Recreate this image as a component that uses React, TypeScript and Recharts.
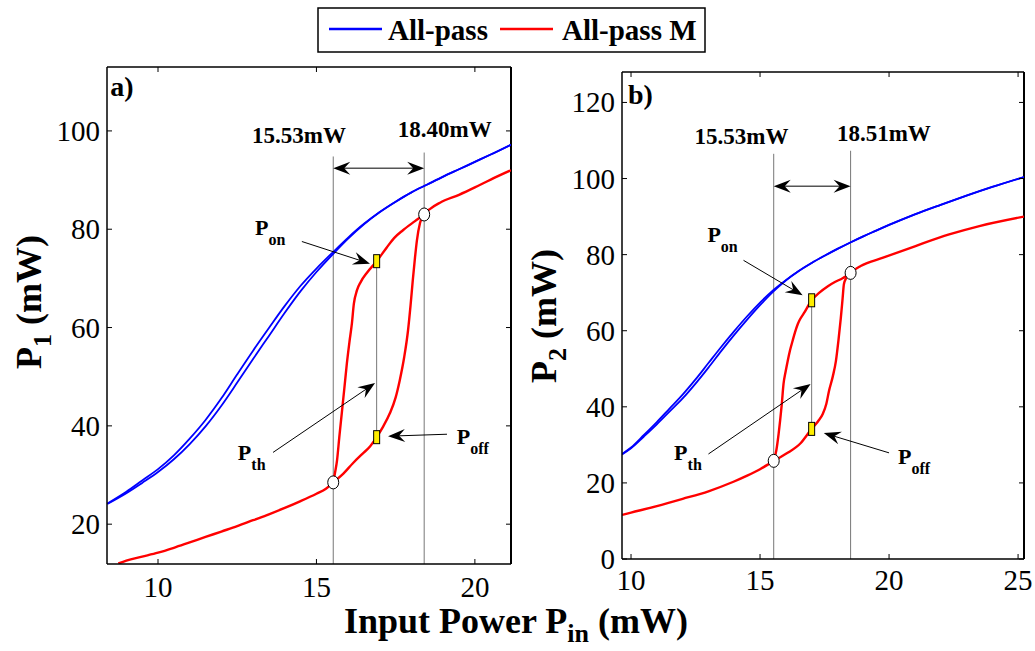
import React from 'react';
import { LineChart, Line, XAxis, YAxis, ReferenceLine, ReferenceDot } from 'recharts';

const FONT = '"Liberation Serif", "Times New Roman", Times, serif';

// legend
const seriesNames = ['All-pass', 'All-pass M'];
const seriesColors = ['#0000ff', '#ff0000'];

// ---- panel a) : P1 vs Pin ----
const aTicksX = [10, 15, 20];
const aTicksY = [20, 40, 60, 80, 100];
const aBlueX = [8.4, 9, 9.5, 10, 10.5, 11, 11.5, 12, 12.5, 13, 13.5, 14, 14.5, 15, 15.5, 16, 16.5, 17, 17.5, 18, 18.5, 19, 19.5, 20, 20.5, 21.14];
const aBlueUp = [24.2, 26.6, 28.9, 31.2, 34.0, 37.4, 41.2, 45.6, 50.5, 55.3, 59.9, 64.4, 68.5, 72.0, 75.2, 78.3, 81.1, 83.5, 85.6, 87.5, 89.1, 90.7, 92.2, 93.7, 95.2, 97.2];
const aBlueDown = [24.1, 26.3, 28.4, 30.6, 33.2, 36.3, 39.9, 44.1, 48.8, 53.6, 58.3, 63.0, 67.4, 71.3, 74.8, 78.1, 81.0, 83.5, 85.6, 87.5, 89.1, 90.7, 92.2, 93.7, 95.2, 97.2];
const aRedUpX = [8.75, 9, 9.5, 10, 10.5, 11, 11.5, 12, 12.5, 13, 13.5, 14, 14.5, 15, 15.3, 15.53, 15.85, 16.15, 16.45, 16.69, 16.9, 17.1, 17.32, 17.5, 17.63, 17.77, 17.89, 17.97, 18.04, 18.11, 18.17, 18.27, 18.4, 18.6, 18.9, 19.5, 20, 20.5, 21.14];
const aRedUpY = [12, 12.6, 13.4, 14.2, 15.2, 16.3, 17.4, 18.5, 19.6, 20.8, 22.0, 23.3, 24.7, 26.2, 27.2, 28.5, 30.3, 32.4, 34.3, 35.8, 37.7, 39.8, 42.6, 45.8, 49.3, 54.0, 59.4, 64.5, 69.6, 74.2, 77.7, 81.3, 83, 84.2, 85.4, 87, 88.5, 90.1, 92];
const aRedDownX = [18.4, 18.1, 17.73, 17.45, 17.22, 16.9, 16.6, 16.4, 16.28, 16.18, 16.12, 16.04, 15.96, 15.88, 15.8, 15.72, 15.65, 15.59, 15.53];
const aRedDownY = [83, 81.6, 79.8, 78.2, 76.3, 73.5, 71.2, 69.3, 67.6, 64.8, 60.9, 57.0, 52.7, 47.6, 42.6, 37.6, 33, 30.6, 28.5];
const aCircles = [{ x: 15.53, y: 28.5 }, { x: 18.4, y: 83 }];
const aSquares = [{ x: 16.9, y: 73.5 }, { x: 16.9, y: 37.7 }];

// ---- panel b) : P2 vs Pin ----
const bTicksX = [10, 15, 20, 25];
const bTicksY = [0, 20, 40, 60, 80, 100, 120];
const bBlueX = [9.65, 10, 10.5, 11, 11.5, 12, 12.5, 13, 13.5, 14, 14.5, 15, 15.5, 16, 16.5, 17, 17.5, 18, 18.5, 19, 19.5, 20, 21, 22, 23, 24, 25.23];
const bBlueUp = [27.6, 29.3, 32.6, 36.0, 39.6, 43.2, 47.2, 51.5, 55.8, 59.9, 63.8, 67.4, 70.6, 73.3, 75.7, 77.8, 79.7, 81.5, 83.2, 84.8, 86.3, 87.8, 90.6, 93.1, 95.5, 97.8, 100.4];
const bBlueDown = [27.5, 29.1, 32.2, 35.4, 38.8, 42.2, 46.1, 50.3, 54.7, 58.9, 62.9, 66.7, 70.2, 73.2, 75.7, 77.8, 79.7, 81.5, 83.2, 84.8, 86.3, 87.8, 90.6, 93.1, 95.5, 97.8, 100.4];
const bRedUpX = [9.65, 10, 11, 12, 13, 13.97, 14.5, 15, 15.3, 15.53, 15.8, 16.07, 16.58, 17.0, 17.25, 17.43, 17.57, 17.67, 17.82, 17.94, 18.04, 18.13, 18.2, 18.25, 18.35, 18.51, 18.9, 19.77, 21, 22.33, 23.5, 25.23];
const bRedUpY = [11.6, 12.2, 13.9, 15.8, 17.8, 20.3, 21.9, 23.6, 24.8, 25.8, 26.8, 27.9, 30.5, 34.2, 36.2, 38.1, 40.8, 44.1, 48.0, 52, 57.5, 63.3, 68.5, 72.2, 74.0, 75.2, 77, 79.2, 82.2, 85.3, 87.5, 90];
const bRedDownX = [18.51, 18.2, 17.9, 17.63, 17.3, 17.0, 16.7, 16.55, 16.46, 16.36, 16.26, 16.16, 16.07, 15.99, 15.91, 15.84, 15.78, 15.72, 15.63, 15.53];
const bRedDownY = [75.2, 73.8, 72.8, 71.7, 70.0, 68, 64.6, 63.0, 61.7, 59.7, 57.3, 54.8, 52, 49.2, 46, 40.5, 36.5, 32.9, 28.5, 25.8];
const bCircles = [{ x: 15.53, y: 25.8 }, { x: 18.51, y: 75.2 }];
const bSquares = [{ x: 17.0, y: 68 }, { x: 17.0, y: 34.2 }];

const zip = (xs: number[], ys: number[]) => xs.map((x, i) => ({ x, y: ys[i] }));

type P = { x: number; y: number };
type PanelCfg = {
  left: number;
  top: number;
  plotW: number;
  plotH: number;
  xDomain: [number, number];
  yDomain: [number, number];
  xTicks: number[];
  yTicks: number[];
  xLabelDy: number;
  blue: P[][];
  red: P[][];
  circles: P[];
  squares: P[];
  vlines: P[][];
  bracket: P[];
  arrows: P[][];
  tags: { x: number; y: number; sub: string }[];
  values: { x: number; y: number; text: string }[];
  letter: { x: number; y: number; text: string };
};

const headPts = (tx: number, ty: number, ux: number, uy: number) => {
  const L = 17, W = 6.5, N = 11;
  const nx = -uy, ny = ux;
  return `${tx},${ty} ${tx - L * ux + W * nx},${ty - L * uy + W * ny} ${tx - N * ux},${ty - N * uy} ${tx - L * ux - W * nx},${ty - L * uy - W * ny}`;
};

const arrowShape = (p: any, both: boolean, color: string, width: number) => {
  const { x1, y1, x2, y2 } = p;
  const len = Math.hypot(x2 - x1, y2 - y1) || 1;
  const ux = (x2 - x1) / len, uy = (y2 - y1) / len;
  return (
    <g>
      <line
        x1={both ? x1 + 10 * ux : x1}
        y1={both ? y1 + 10 * uy : y1}
        x2={x2 - 10 * ux}
        y2={y2 - 10 * uy}
        stroke={color}
        strokeWidth={width}
      />
      <polygon points={headPts(x2, y2, ux, uy)} fill="#000" />
      {both && <polygon points={headPts(x1, y1, -ux, -uy)} fill="#000" />}
    </g>
  );
};

const Panel = ({ c }: { c: PanelCfg }) => {
  const W = 520, H = 651;
  const xTick = (props: any) => {
    const { x, y, payload } = props;
    return (
      <g>
        <line x1={x} y1={y} x2={x} y2={y - 5} stroke="#000" strokeWidth={1} />
        <line x1={x} y1={y - c.plotH} x2={x} y2={y - c.plotH + 5} stroke="#000" strokeWidth={1} />
        <text x={x} y={y + c.xLabelDy} textAnchor="middle" fontFamily={FONT} fontSize={29} fill="#000">
          {payload.value}
        </text>
      </g>
    );
  };
  const yTick = (props: any) => {
    const { x, y, payload } = props;
    return (
      <g>
        <line x1={x} y1={y} x2={x + 5} y2={y} stroke="#000" strokeWidth={1} />
        <line x1={x + c.plotW} y1={y} x2={x + c.plotW - 5} y2={y} stroke="#000" strokeWidth={1} />
        <text x={x - 7} y={y + 10} textAnchor="end" fontFamily={FONT} fontSize={29} fill="#000">
          {payload.value}
        </text>
      </g>
    );
  };
  return (
    <div style={{ position: 'absolute', left: c.left, top: 0, width: W, height: H }}>
      <LineChart width={W} height={H} margin={{ top: c.top, right: W - 107 - c.plotW, bottom: 0, left: 0 }}>
        <XAxis
          type="number"
          dataKey="x"
          domain={c.xDomain}
          allowDataOverflow
          ticks={c.xTicks}
          interval={0}
          tick={xTick}
          tickLine={false}
          tickSize={0}
          tickMargin={0}
          height={H - c.top - c.plotH}
          axisLine={{ stroke: '#000', strokeWidth: 1.5 }}
        />
        <YAxis
          type="number"
          domain={c.yDomain}
          allowDataOverflow
          ticks={c.yTicks}
          interval={0}
          tick={yTick}
          tickLine={false}
          tickSize={0}
          tickMargin={0}
          width={107}
          axisLine={{ stroke: '#000', strokeWidth: 1.5 }}
        />
        <ReferenceLine y={c.yDomain[1]} stroke="#000" strokeWidth={1.5} />
        <ReferenceLine x={c.xDomain[1]} stroke="#000" strokeWidth={2} />
        {c.vlines.map((s, i) => (
          <ReferenceLine key={`v${i}`} segment={s} stroke="#777" strokeWidth={1} />
        ))}
        {c.blue.map((d, i) => (
          <Line key={`b${i}`} data={d} dataKey="y" type="monotone" stroke={seriesColors[0]} strokeWidth={1.8} dot={false} activeDot={false} isAnimationActive={false} />
        ))}
        {c.red.map((d, i) => (
          <Line key={`r${i}`} data={d} dataKey="y" type="monotone" stroke={seriesColors[1]} strokeWidth={2.4} dot={false} activeDot={false} isAnimationActive={false} />
        ))}
        <ReferenceLine segment={c.bracket} shape={(p: any) => arrowShape(p, true, '#555', 1.5)} />
        {c.arrows.map((s, i) => (
          <ReferenceLine key={`a${i}`} segment={s} shape={(p: any) => arrowShape(p, false, '#000', 1)} />
        ))}
        {c.circles.map((p, i) => (
          <ReferenceDot key={`c${i}`} x={p.x} y={p.y} r={6} shape={(q: any) => (
            <ellipse cx={q.cx} cy={q.cy} rx={5.5} ry={6.5} fill="#fff" stroke="#000" strokeWidth={1} />
          )} />
        ))}
        {c.squares.map((p, i) => (
          <ReferenceDot key={`s${i}`} x={p.x} y={p.y} r={6} shape={(q: any) => (
            <rect x={q.cx - 3} y={q.cy - 6.5} width={6} height={13} fill="#ffee00" stroke="#000" strokeWidth={1} />
          )} />
        ))}
        {c.tags.map((t, i) => (
          <ReferenceDot key={`t${i}`} x={t.x} y={t.y} r={1} shape={(q: any) => (
            <text x={q.cx} y={q.cy} fontFamily={FONT} fontWeight="bold" fontSize={22} fill="#000">
              P<tspan fontSize={16} dy={10}>{t.sub}</tspan>
            </text>
          )} />
        ))}
        {c.values.map((t, i) => (
          <ReferenceDot key={`l${i}`} x={t.x} y={t.y} r={1} shape={(q: any) => (
            <text x={q.cx} y={q.cy} textAnchor="middle" fontFamily={FONT} fontWeight="bold" fontSize={23} fill="#000">
              {t.text}
            </text>
          )} />
        ))}
        <ReferenceDot x={c.letter.x} y={c.letter.y} r={1} shape={(q: any) => (
          <text x={q.cx} y={q.cy} fontFamily={FONT} fontWeight="bold" fontSize={28} fill="#000">
            {c.letter.text}
          </text>
        )} />
      </LineChart>
    </div>
  );
};

const panelA: PanelCfg = {
  left: 0,
  top: 67,
  plotW: 404,
  plotH: 497,
  xDomain: [8.39, 21.14],
  yDomain: [11.9, 113],
  xTicks: aTicksX,
  yTicks: aTicksY,
  xLabelDy: 33,
  blue: [zip(aBlueX, aBlueUp), zip(aBlueX, aBlueDown)],
  red: [zip(aRedUpX, aRedUpY), zip(aRedDownX, aRedDownY)],
  circles: aCircles,
  squares: aSquares,
  vlines: [
    [{ x: 15.53, y: 94.8 }, { x: 15.53, y: 11.9 }],
    [{ x: 18.4, y: 95.6 }, { x: 18.4, y: 11.9 }],
    [{ x: 16.9, y: 73.5 }, { x: 16.9, y: 37.7 }],
  ],
  bracket: [{ x: 15.53, y: 92.4 }, { x: 18.4, y: 92.4 }],
  arrows: [
    [{ x: 14.54, y: 77.5 }, { x: 16.69, y: 73.0 }],
    [{ x: 13.63, y: 34.6 }, { x: 16.85, y: 48.7 }],
    [{ x: 19.12, y: 38.3 }, { x: 17.26, y: 37.9 }],
  ],
  tags: [
    { x: 13.06, y: 78.9, sub: 'on' },
    { x: 12.52, y: 33, sub: 'th' },
    { x: 19.43, y: 36.3, sub: 'off' },
  ],
  values: [
    { x: 14.45, y: 97.6, text: '15.53mW' },
    { x: 19.05, y: 98.7, text: '18.40mW' },
  ],
  letter: { x: 8.49, y: 107.2, text: 'a)' },
};

const panelB: PanelCfg = {
  left: 515,
  top: 72,
  plotW: 402,
  plotH: 487,
  xDomain: [9.65, 25.23],
  yDomain: [0, 128],
  xTicks: bTicksX,
  yTicks: bTicksY,
  xLabelDy: 31,
  blue: [zip(bBlueX, bBlueUp), zip(bBlueX, bBlueDown)],
  red: [zip(bRedUpX, bRedUpY), zip(bRedDownX, bRedDownY)],
  circles: bCircles,
  squares: bSquares,
  vlines: [
    [{ x: 15.53, y: 106.5 }, { x: 15.53, y: 0 }],
    [{ x: 18.51, y: 107.3 }, { x: 18.51, y: 0 }],
    [{ x: 17.0, y: 68 }, { x: 17.0, y: 34.2 }],
  ],
  bracket: [{ x: 15.53, y: 98 }, { x: 18.51, y: 98 }],
  arrows: [
    [{ x: 14.36, y: 78.5 }, { x: 16.65, y: 69.3 }],
    [{ x: 13.0, y: 27.6 }, { x: 16.96, y: 46 }],
    [{ x: 20.0, y: 27.9 }, { x: 17.47, y: 33.1 }],
  ],
  tags: [
    { x: 12.96, y: 83.3, sub: 'on' },
    { x: 11.67, y: 26, sub: 'th' },
    { x: 20.35, y: 25, sub: 'off' },
  ],
  values: [
    { x: 14.28, y: 109.2, text: '15.53mW' },
    { x: 19.8, y: 109.8, text: '18.51mW' },
  ],
  letter: { x: 9.88, y: 119.5, text: 'b)' },
};

export default function App() {
  return (
    <div style={{ position: 'absolute', left: 0, top: 0, width: 1035, height: 651, background: '#fff', overflow: 'hidden' }}>
      <Panel c={panelA} />
      <Panel c={panelB} />
      <svg width={1035} height={651} style={{ position: 'absolute', left: 0, top: 0, pointerEvents: 'none' }}>
        {/* legend */}
        <rect x={318} y={8} width={387} height={44} fill="#fff" stroke="#000" strokeWidth={1.5} />
        <line x1={329} y1={29} x2={382} y2={29} stroke={seriesColors[0]} strokeWidth={2.5} />
        <text x={388} y={40} fontFamily={FONT} fontWeight="bold" fontSize={29} fill="#000">{seriesNames[0]}</text>
        <line x1={500} y1={29} x2={553} y2={29} stroke={seriesColors[1]} strokeWidth={2.5} />
        <text x={562} y={40} fontFamily={FONT} fontWeight="bold" fontSize={29} fill="#000">{seriesNames[1]}</text>
        {/* axis titles */}
        <text x={516} y={633} textAnchor="middle" fontFamily={FONT} fontWeight="bold" fontSize={36} fill="#000">
          Input Power P<tspan fontSize={26} dy={9}>in</tspan><tspan dy={-9}> (mW)</tspan>
        </text>
        <text x={41} y={302} transform="rotate(-90 41 302)" textAnchor="middle" fontFamily={FONT} fontWeight="bold" fontSize={36} fill="#000">
          P<tspan fontSize={26} dy={10}>1</tspan><tspan dy={-10}> (mW)</tspan>
        </text>
        <text x={556} y={316} transform="rotate(-90 556 316)" textAnchor="middle" fontFamily={FONT} fontWeight="bold" fontSize={36} fill="#000">
          P<tspan fontSize={26} dy={10}>2</tspan><tspan dy={-10}> (mW)</tspan>
        </text>
      </svg>
    </div>
  );
}
